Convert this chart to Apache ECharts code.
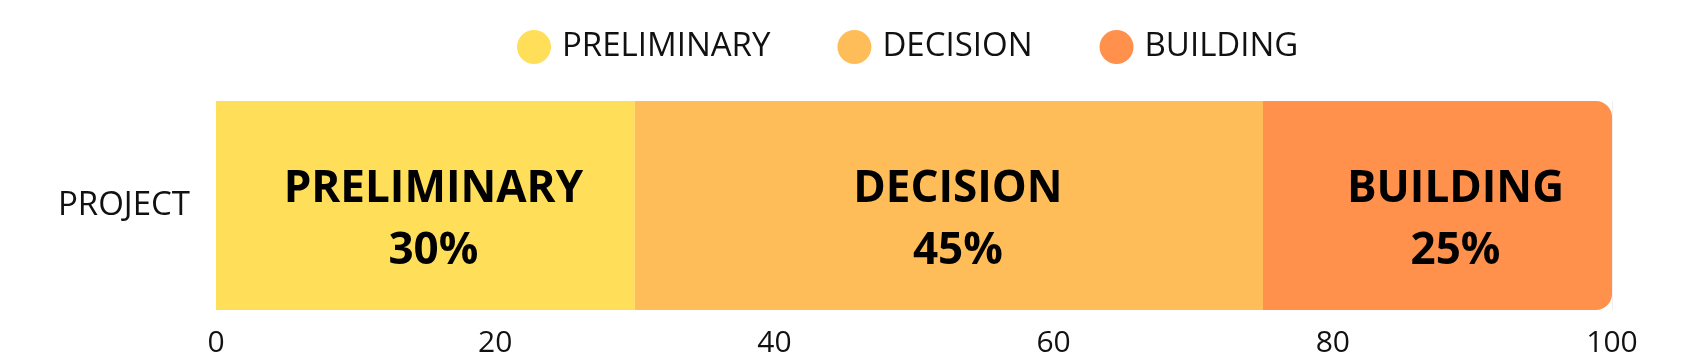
<!DOCTYPE html>
<html><head><meta charset="utf-8">
<script src="https://cdn.jsdelivr.net/npm/echarts@6/dist/echarts.min.js"></script>
<style>html,body{margin:0;padding:0;background:#fff}#c{width:1688px;height:364px}</style>
</head><body><div id="c"></div>
<script>
const categories = ['PROJECT'];
const seriesNames = ['PRELIMINARY', 'DECISION', 'BUILDING'];
const preliminary = [30];
const decision = [45];
const building = [25];
const xTicks = [0, 20, 40, 60, 80, 100];
const colors = ['#FFDE59', '#FFBD59', '#FF914D'];
const labelShiftX = [8, 9, 18];

const chart = echarts.init(document.getElementById('c'));
const data = [preliminary, decision, building];
const series = seriesNames.map((n, i) => ({
  name: n,
  type: 'bar',
  stack: 'total',
  data: data[i],
  barWidth: 209,
  itemStyle: { color: colors[i], borderRadius: i === 2 ? [0, 16, 16, 0] : 0 },
  label: {
    show: true,
    position: 'inside',
    offset: [labelShiftX[i], 15],
    formatter: p => p.seriesName + '\n' + p.value + '%',
    color: '#000',
    fontFamily: 'Open Sans',
    fontWeight: 'bold',
    fontSize: 44,
    lineHeight: 62
  }
}));
chart.setOption({
  animation: false,
  legend: {
    data: seriesNames,
    left: 512, top: 25,
    icon: 'circle',
    itemWidth: 34, itemHeight: 34,
    itemGap: 67,
    textStyle: { fontFamily: 'Open Sans', fontSize: 33, color: '#111', padding: [0, 0, 0, 6] }
  },
  grid: { left: 216, right: 76, top: 101, bottom: 54, containLabel: false },
  xAxis: {
    type: 'value', min: 0, max: 100, interval: 20,
    axisLine: { show: false }, axisTick: { show: false },
    splitLine: { show: true, lineStyle: { color: '#eeeeee' } },
    axisLabel: { fontFamily: 'Open Sans', fontSize: 30, color: '#111', margin: 18,
      formatter: v => xTicks.includes(v) ? String(v) : '' }
  },
  yAxis: {
    type: 'category', data: categories,
    axisLine: { show: false }, axisTick: { show: false },
    axisLabel: { fontFamily: 'Open Sans', fontSize: 33, color: '#111', margin: 26 }
  },
  series
});
</script></body></html>
